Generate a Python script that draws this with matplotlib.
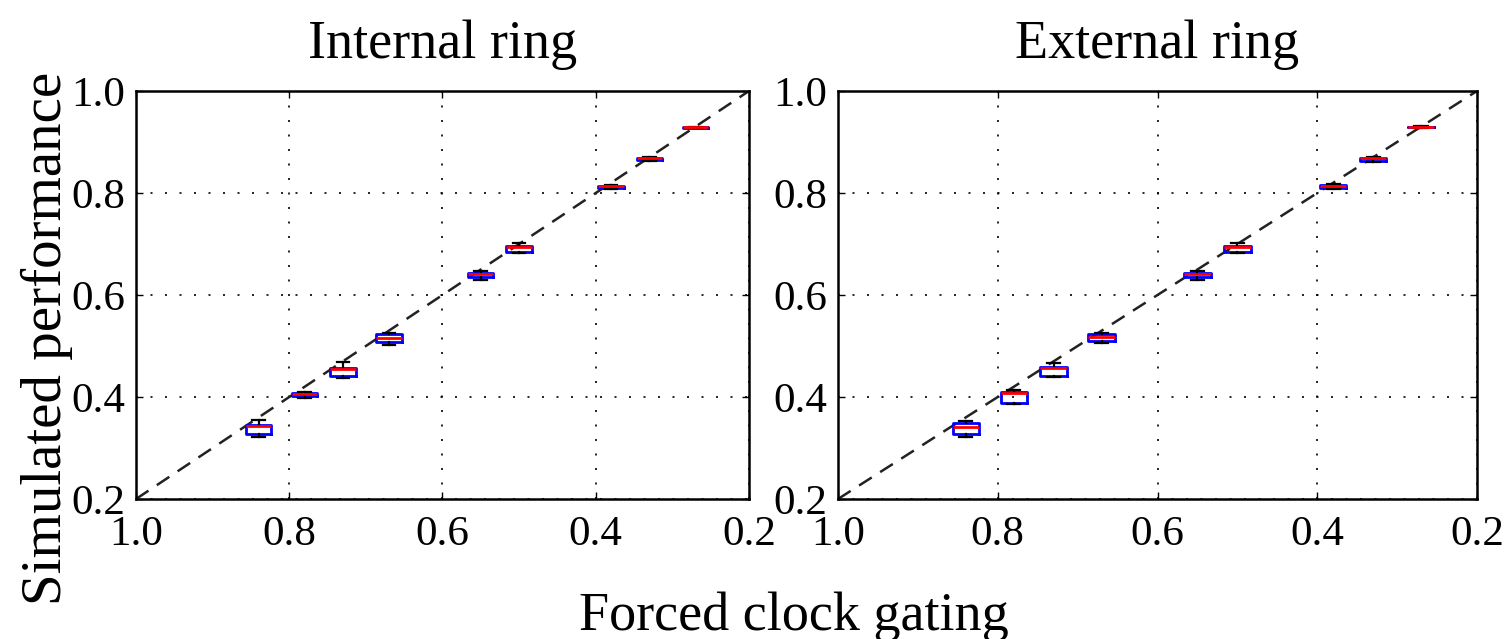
import matplotlib
matplotlib.use("Agg")
import matplotlib.pyplot as plt

plt.rcParams['font.family'] = ['Liberation Serif', 'DejaVu Serif']

positions = [0.84, 0.78, 0.73, 0.67, 0.55, 0.50, 0.38, 0.33, 0.27]
titles = ["Internal ring", "External ring"]
ticks = [1.0, 0.8, 0.6, 0.4, 0.2]
tick_labels = ["1.0", "0.8", "0.6", "0.4", "0.2"]

# [whislo, q1, med, q3, whishi] for each position
internal_lo = [0.322, 0.399, 0.437, 0.502, 0.630, 0.683, 0.808, 0.862, 0.927]
internal_q1 = [0.327, 0.401, 0.442, 0.507, 0.635, 0.685, 0.810, 0.864, 0.928]
internal_med = [0.343, 0.406, 0.455, 0.516, 0.642, 0.695, 0.813, 0.868, 0.929]
internal_q3 = [0.346, 0.407, 0.457, 0.523, 0.644, 0.697, 0.814, 0.869, 0.929]
internal_hi = [0.355, 0.409, 0.469, 0.525, 0.648, 0.701, 0.816, 0.871, 0.930]

external_lo = [0.322, 0.387, 0.440, 0.505, 0.630, 0.683, 0.808, 0.861, 0.928]
external_q1 = [0.327, 0.389, 0.441, 0.510, 0.636, 0.684, 0.810, 0.863, 0.929]
external_med = [0.342, 0.407, 0.456, 0.517, 0.641, 0.695, 0.814, 0.868, 0.930]
external_q3 = [0.349, 0.409, 0.458, 0.523, 0.643, 0.697, 0.815, 0.869, 0.930]
external_hi = [0.352, 0.414, 0.467, 0.525, 0.647, 0.701, 0.818, 0.871, 0.931]

diag_x = [1.0, 0.2]
diag_y = [0.2, 1.0]

fig = plt.figure(figsize=(15.10, 6.39), dpi=100)
ax1 = fig.add_axes([136/1510, 1-499/639, (749-136)/1510, (499-91)/639])
ax2 = fig.add_axes([838/1510, 1-499/639, (1477-838)/1510, (499-91)/639])

datasets = [
    (internal_lo, internal_q1, internal_med, internal_q3, internal_hi),
    (external_lo, external_q1, external_med, external_q3, external_hi),
]

for ax, title, (lo, q1, med, q3, hi) in zip([ax1, ax2], titles, datasets):
    stats = []
    for i in range(len(positions)):
        stats.append(dict(whislo=lo[i], q1=q1[i], med=med[i], q3=q3[i],
                          whishi=hi[i], fliers=[]))
    ax.plot(diag_x, diag_y, color='#222222', lw=1.8, dashes=(6, 4), zorder=2)
    ax.bxp(stats, positions=positions, widths=0.033, showfliers=False,
           manage_ticks=False,
           boxprops=dict(color='blue', lw=2.0),
           medianprops=dict(color='red', lw=2.0),
           whiskerprops=dict(color='black', lw=1.6),
           capprops=dict(color='black', lw=1.6), zorder=3)
    ax.set_xlim(1.0, 0.2)
    ax.set_ylim(0.2, 1.0)
    ax.set_xticks(ticks)
    ax.set_xticklabels(tick_labels)
    ax.set_yticks(ticks)
    ax.set_yticklabels(tick_labels)
    ax.grid(True, color='black', lw=1.2, linestyle=(0, (1.2, 7.5)))
    ax.tick_params(direction='in', top=True, right=True, length=5, width=1,
                   labelsize=31)
    ax.tick_params(axis='x', pad=12)
    ax.tick_params(axis='y', pad=8)
    for s in ax.spines.values():
        s.set_linewidth(1.8)
    ax.set_title(title, fontsize=39, pad=24)

fig.text(0.031, 0.471, "Simulated performance", rotation=90, fontsize=41,
         ha='center', va='center')
fig.text(0.526, 1-630/639, "Forced clock gating", fontsize=39,
         ha='center', va='baseline')

fig.savefig("out.png", dpi=100)
